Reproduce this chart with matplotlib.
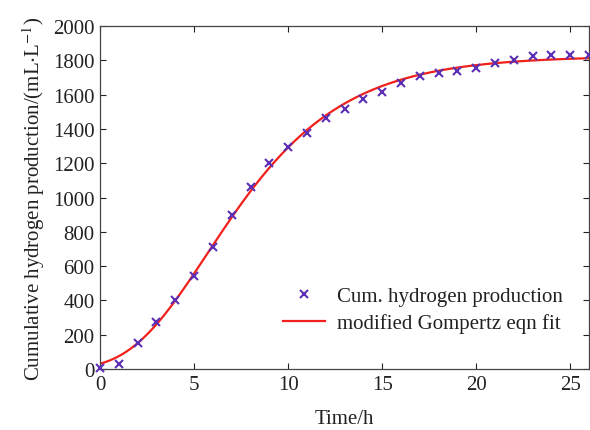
import numpy as np
import matplotlib
matplotlib.use("Agg")
import matplotlib.pyplot as plt

plt.rcParams['font.family'] = ['Liberation Serif', 'DejaVu Serif']
plt.rcParams['mathtext.fontset'] = 'stix'

# Measured cumulative hydrogen production (mL/L) at each hour
time_h = [0, 1, 2, 3, 4, 5, 6, 7, 8, 9, 10, 11, 12, 13, 14, 15, 16, 17, 18,
          19, 20, 21, 22, 23, 24, 25, 26]
cum_h2 = [4, 28, 152, 276, 404, 544, 711, 900, 1059, 1201, 1296, 1376, 1462,
          1514, 1574, 1617, 1666, 1707, 1726, 1740, 1755, 1784, 1802, 1823,
          1833, 1831, 1833]

# Modified Gompertz fit parameters: P (mL/L), Rm (mL/L/h), lambda (h)
P_fit = 1825.0
Rm_fit = 166.0
lag_fit = 1.65

xticks = [0, 5, 10, 15, 20, 25]
yticks = [0, 200, 400, 600, 800, 1000, 1200, 1400, 1600, 1800, 2000]

t_fit = np.linspace(0, 26, 300)
h_fit = P_fit * np.exp(-np.exp(Rm_fit * np.e / P_fit * (lag_fit - t_fit) + 1))

fig = plt.figure(figsize=(5.9, 4.31), dpi=100)
ax = fig.add_axes([0.1695, 0.1415, 0.829, 0.7955])

ax.plot(time_h, cum_h2, linestyle='none', marker='x', markersize=6,
        markeredgewidth=1.5, color='#5b2fb5', label='Cum. hydrogen production',
        zorder=3, clip_on=False)
ax.plot(t_fit, h_fit, color='#f0201a', linewidth=1.6,
        label='modified Gompertz eqn fit', zorder=2)

ax.set_xlim(0, 26)
ax.set_ylim(0, 2000)
ax.set_xticks(xticks)
ax.set_yticks(yticks)
ax.tick_params(direction='in', length=4, width=0.8, top=True, right=True,
               labelsize=15, colors='#222222', pad=4)
for s in ax.spines.values():
    s.set_color('#444444')
    s.set_linewidth(0.9)

ax.set_xlabel('Time/h', fontsize=15, color='#222222', labelpad=11)
ax.set_ylabel(r'Cumulative hydrogen production/(mL$\cdot$L$^{-1}$)',
              fontsize=15, color='#222222', labelpad=4)

leg = ax.legend(loc='lower right', bbox_to_anchor=(0.985, 0.05), frameon=False,
                fontsize=15, handlelength=2.0, handletextpad=0.6,
                labelspacing=0.35)
for t in leg.get_texts():
    t.set_color('#222222')

fig.savefig('out.png', dpi=100)
